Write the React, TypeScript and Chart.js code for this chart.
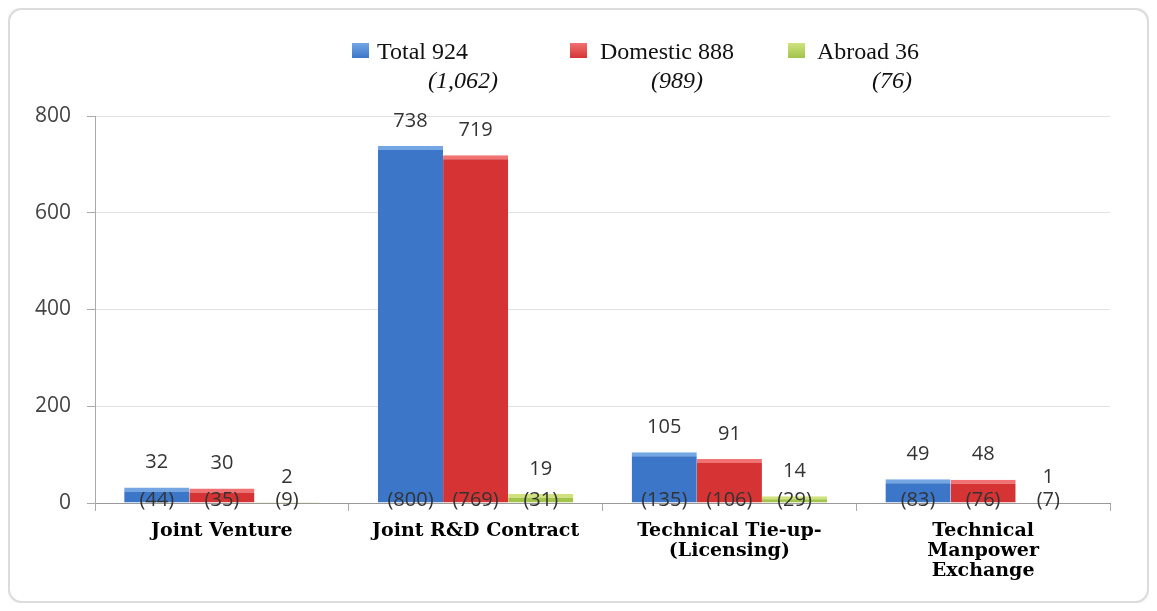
import React, { useEffect, useRef } from "react";
import { Chart, registerables } from "chart.js";

Chart.register(...registerables);

const categories: string[][] = [
  ["Joint Venture"],
  ["Joint R&D Contract"],
  ["Technical Tie-up-", "(Licensing)"],
  ["Technical", "Manpower", "Exchange"],
];
const seriesNames = ["Total 924", "Domestic 888", "Abroad 36"];
const seriesPrevTotals = ["(1,062)", "(989)", "(76)"];
const totalValues = [32, 738, 105, 49];
const domesticValues = [30, 719, 91, 48];
const abroadValues = [2, 19, 14, 1];
const totalPrev = [44, 800, 135, 83];
const domesticPrev = [35, 769, 106, 76];
const abroadPrev = [9, 31, 29, 7];
const yTicks = [0, 200, 400, 600, 800];

const seriesColors = ["#3b76c8", "#d63434", "#a2c44a"];
const seriesTopColors = ["#74a6e4", "#f07272", "#cfe27e"];
const prevValues = [totalPrev, domesticPrev, abroadPrev];

const legendLayout = [
  { sq: 342, tx: 367, ix: 453 },
  { sq: 560, tx: 590, ix: 667 },
  { sq: 778, tx: 807, ix: 882 },
];

const labelPlugin = {
  id: "barLabels",
  afterDatasetsDraw(chart: any) {
    const ctx = chart.ctx;
    const y0 = chart.scales.y.getPixelForValue(0);
    ctx.save();
    ctx.font = "20px 'Open Sans'";
    ctx.fillStyle = "#333";
    ctx.textAlign = "center";
    ctx.textBaseline = "middle";
    chart.data.datasets.forEach((ds: any, di: number) => {
      const meta = chart.getDatasetMeta(di);
      meta.data.forEach((bar: any, i: number) => {
        ctx.fillText(String(ds.data[i]), bar.x, bar.y - 25);
        ctx.fillText("(" + prevValues[di][i] + ")", bar.x, y0 - 3);
      });
    });
    ctx.restore();
  },
  afterDraw(chart: any) {
    const ctx = chart.ctx;
    ctx.save();
    seriesNames.forEach((name, i) => {
      const L = legendLayout[i];
      const g = ctx.createLinearGradient(0, 33, 0, 48);
      g.addColorStop(0, seriesTopColors[i]);
      g.addColorStop(1, seriesColors[i]);
      ctx.fillStyle = g;
      ctx.fillRect(L.sq, 33, 17, 15);
      ctx.fillStyle = "#111";
      ctx.font = "24px 'Liberation Serif'";
      ctx.textAlign = "left";
      ctx.textBaseline = "alphabetic";
      ctx.fillText(name, L.tx, 49);
      ctx.font = "italic 24px 'Liberation Serif'";
      ctx.textAlign = "center";
      ctx.fillText(seriesPrevTotals[i], L.ix, 78);
    });
    ctx.restore();
  },
};

export default function App() {
  const ref = useRef<HTMLCanvasElement>(null);
  useEffect(() => {
    if (!ref.current) return;
    const mk = (data: number[], i: number) => ({
      label: seriesNames[i],
      data,
      backgroundColor: seriesColors[i],
      borderColor: seriesTopColors[i],
      borderWidth: { top: 4, left: 0, right: 0, bottom: 0 },
      borderSkipped: "start",
      categoryPercentage: 0.77,
      barPercentage: 1.0,
    });
    const chart = new Chart(ref.current, {
      type: "bar",
      data: {
        labels: categories,
        datasets: [mk(totalValues, 0), mk(domesticValues, 1), mk(abroadValues, 2)],
      },
      options: {
        responsive: false,
        animation: false,
        layout: { padding: { top: 106, right: 37, left: 0, bottom: 0 } },
        plugins: { legend: { display: false }, tooltip: { enabled: false } },
        scales: {
          x: {
            grid: {
              display: true,
              drawOnChartArea: false,
              drawTicks: true,
              tickLength: 8,
              offset: true,
              tickColor: "#aaa",
            },
            border: { color: "#999" },
            ticks: {
              padding: 10,
              color: "#000",
              font: { family: "'DejaVu Serif'", weight: "bold", size: 19, lineHeight: "20px" },
            },
            afterFit: (s: any) => {
              s.height = 98;
            },
          },
          y: {
            min: 0,
            max: 800,
            afterBuildTicks: (s: any) => {
              s.ticks = yTicks.map((v) => ({ value: v }));
            },
            grid: { color: "#e2e2e2", tickLength: 8, tickColor: "#aaa" },
            border: { color: "#aaa" },
            ticks: {
              padding: 16,
              color: "#444",
              font: { family: "'Open Sans'", size: 21 },
            },
            afterFit: (s: any) => {
              s.width = 85;
            },
          },
        },
      },
      plugins: [labelPlugin],
    } as any);
    return () => chart.destroy();
  }, []);
  return (
    <div
      style={{
        width: 1141,
        height: 595,
        boxSizing: "border-box",
        border: "2px solid #dcdcdc",
        borderRadius: 14,
        boxShadow: "0 0 3px rgba(0,0,0,0.12)",
        background: "#fff",
        overflow: "hidden",
      }}
    >
      <canvas ref={ref} width={1137} height={591} style={{ display: "block" }} />
    </div>
  );
}
